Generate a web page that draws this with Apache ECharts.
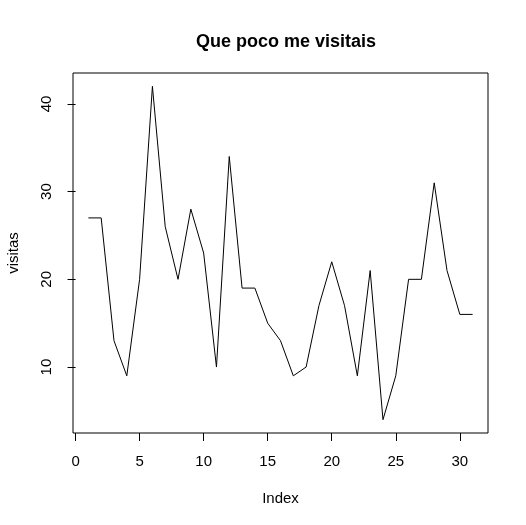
<!DOCTYPE html>
<html>
<head>
<meta charset="utf-8">
<script src="https://cdn.jsdelivr.net/npm/echarts@6/dist/echarts.min.js"></script>
<style>html,body{margin:0;padding:0;background:#fff}#c{width:526px;height:525px}</style>
</head>
<body>
<div id="c"></div>
<script>
var indexValues = [1,2,3,4,5,6,7,8,9,10,11,12,13,14,15,16,17,18,19,20,21,22,23,24,25,26,27,28,29,30,31];
var visitas = [27,27,13,9,20,42,26,20,28,23,10,34,19,19,15,13,9,10,17,22,17,9,21,4,9,20,20,31,21,16,16];
var xTicks = [0,5,10,15,20,25,30];
var yTicks = [10,20,30,40];
var titleText = 'Que poco me visitais';
var xName = 'Index';
var yName = 'visitas';

var pts = indexValues.map(function(x,i){return [x, visitas[i]];});
var chart = echarts.init(document.getElementById('c'), null, {renderer:'canvas'});
var font = 'Liberation Sans, Arial, sans-serif';
chart.setOption({
  animation:false,
  backgroundColor:'#fff',
  title:{text:titleText,left:281,top:28,textAlign:'center',
    textStyle:{fontFamily:font,fontSize:18,fontWeight:'bold',color:'#000'}},
  grid:{left:73,right:38,top:73,bottom:92,show:true,borderColor:'#000',borderWidth:1,backgroundColor:'transparent',
    containLabel:false,outerBoundsMode:'none'},
  xAxis:{type:'value',min:-0.2,max:32.2,
    name:xName,nameLocation:'middle',nameGap:58,
    nameTextStyle:{fontFamily:font,fontSize:15,color:'#000'},
    axisLine:{show:false},splitLine:{show:false},
    axisTick:{show:true,inside:false,length:8,customValues:xTicks,lineStyle:{color:'#000'}},
    axisLabel:{customValues:xTicks,margin:21,fontFamily:font,fontSize:15,color:'#000'}},
  yAxis:{type:'value',min:2.48,max:43.52,
    name:yName,nameLocation:'middle',nameGap:52,nameRotate:90,
    nameTextStyle:{fontFamily:font,fontSize:15,color:'#000'},
    axisLine:{show:false},splitLine:{show:false},
    axisTick:{show:true,inside:false,length:8,customValues:yTicks,lineStyle:{color:'#000'}},
    axisLabel:{customValues:yTicks,rotate:90,margin:19,fontFamily:font,fontSize:15,color:'#000'}},
  series:[{type:'line',data:pts,showSymbol:false,symbol:'none',
    lineStyle:{color:'#000',width:1}}]
});
</script>
</body>
</html>
